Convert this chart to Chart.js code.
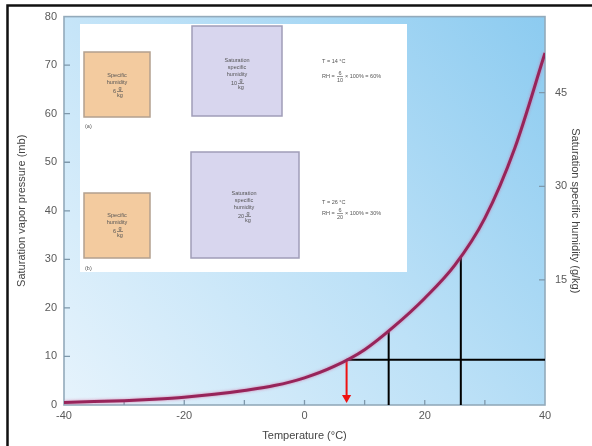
<!DOCTYPE html>
<html>
<head>
<meta charset="utf-8">
<script src="https://cdn.jsdelivr.net/npm/chart.js@4.4.1/dist/chart.umd.min.js"></script>
<style>
  html, body { margin: 0; padding: 0; background: #ffffff; }
  #wrap { width: 592px; height: 446px; position: relative; }
</style>
</head>
<body>
<div id="wrap"><canvas id="c" width="592" height="446"></canvas></div>
<script>
// Saturation vapor pressure (mb) against temperature (°C)
const temperatures  = [-40, -35, -30, -25, -20, -15, -10, -5, 0, 5, 10, 15, 20, 25, 30, 35, 40];
const vaporPressure = [0.5, 0.7, 0.9, 1.2, 1.6, 2.2, 3.0, 4.0, 5.6, 8.0, 11.4, 16.3, 22.0, 28.8, 38.5, 53, 72.5];

// Dew point construction: air holding 6 g/kg
const dewTemp = 7;
const dewPressure = 9.3;
const sampleTemps = [14, 26];
const sampleSatPressure = [15.2, 30.3];

// Axis ticks
const pressureTicks = [0, 10, 20, 30, 40, 50, 60, 70, 80];
const tempTicks = [-40, -20, 0, 20, 40];
const tempMinorTicks = [-30, -10, 10, 30];
const humidityTicks = [15, 30, 45];

const FONT = '"Liberation Sans", Arial, sans-serif';

const curvePoints = temperatures.map((t, i) => ({ x: t, y: vaporPressure[i] }));
const dewLine = [{ x: dewTemp, y: dewPressure }, { x: 40, y: dewPressure }];
const arrowLine = [{ x: dewTemp, y: dewPressure }, { x: dewTemp, y: 1.5 }];
const sampleLines = sampleTemps.map((t, i) => [{ x: t, y: 0 }, { x: t, y: sampleSatPressure[i] }]);

// Background gradient, plot frame, inward tick marks and the humidity inset
const decor = {
  id: 'decor',
  beforeDraw(chart) {
    const ctx = chart.ctx;
    ctx.save();
    ctx.fillStyle = '#ffffff';
    ctx.fillRect(0, 0, chart.width, chart.height);
    ctx.strokeStyle = '#111';
    ctx.lineWidth = 2.5;
    ctx.beginPath();
    ctx.moveTo(7.5, chart.height);
    ctx.lineTo(7.5, 5.5);
    ctx.lineTo(chart.width, 5.5);
    ctx.stroke();
    ctx.restore();
  },
  beforeDatasetsDraw(chart) {
    const ctx = chart.ctx;
    const a = chart.chartArea;
    ctx.save();
    const g = ctx.createLinearGradient(a.left, a.bottom, a.right, a.top);
    g.addColorStop(0, '#e6f3fc');
    g.addColorStop(0.5, '#bde1f7');
    g.addColorStop(1, '#8ccbf0');
    ctx.fillStyle = g;
    ctx.fillRect(a.left, a.top, a.right - a.left, a.bottom - a.top);

    ctx.strokeStyle = '#93aabb';
    ctx.lineWidth = 1.6;
    ctx.strokeRect(a.left, a.top, a.right - a.left, a.bottom - a.top);

    // inward tick marks
    ctx.strokeStyle = '#7e98ab';
    ctx.lineWidth = 1.3;
    const y = chart.scales.y, x = chart.scales.x, y2 = chart.scales.y2;
    ctx.beginPath();
    pressureTicks.forEach(v => {
      if (v === 0 || v === 80) return;
      const py = y.getPixelForValue(v);
      ctx.moveTo(a.left, py); ctx.lineTo(a.left + 6, py);
    });
    tempTicks.concat(tempMinorTicks).forEach(v => {
      if (v === -40 || v === 40) return;
      const px = x.getPixelForValue(v);
      ctx.moveTo(px, a.bottom); ctx.lineTo(px, a.bottom - 5);
    });
    humidityTicks.forEach(v => {
      const py = y2.getPixelForValue(v);
      ctx.moveTo(a.right, py); ctx.lineTo(a.right - 6, py);
    });
    ctx.stroke();

    drawInset(ctx, a);
    ctx.restore();
  },
  beforeDatasetDraw(chart, args) {
    if (args.index === 0) {
      chart.ctx.save();
      chart.ctx.shadowColor = 'rgba(214, 96, 150, 0.75)';
      chart.ctx.shadowBlur = 3;
    }
  },
  afterDatasetDraw(chart, args) {
    if (args.index === 0) chart.ctx.restore();
  }
};

function box(ctx, x, y, w, h, fill, stroke) {
  ctx.fillStyle = fill;
  ctx.fillRect(x, y, w, h);
  ctx.strokeStyle = stroke;
  ctx.lineWidth = 1.5;
  ctx.strokeRect(x, y, w, h);
}

function centered(ctx, lines, cx, y0, step) {
  ctx.textAlign = 'center';
  lines.forEach((s, i) => ctx.fillText(s, cx, y0 + i * step));
}

// "n g/kg" with the unit written as a stacked fraction
function amount(ctx, n, cx, cy) {
  ctx.textAlign = 'right';
  ctx.fillText(n, cx + 1, cy);
  ctx.textAlign = 'center';
  ctx.fillText('g', cx + 5, cy - 3);
  ctx.fillText('kg', cx + 5, cy + 4);
  ctx.beginPath();
  ctx.moveTo(cx + 2, cy + 0.5); ctx.lineTo(cx + 8, cy + 0.5);
  ctx.stroke();
}

function rhLine(ctx, x, y, num, den, result) {
  ctx.textAlign = 'left';
  ctx.fillText('RH =', x, y);
  const fx = x + 18;
  ctx.textAlign = 'center';
  ctx.fillText(num, fx, y - 3);
  ctx.fillText(den, fx, y + 4);
  ctx.beginPath();
  ctx.moveTo(fx - 3, y + 0.5); ctx.lineTo(fx + 3, y + 0.5);
  ctx.stroke();
  ctx.textAlign = 'left';
  ctx.fillText('\u00d7 100% = ' + result, fx + 5, y);
}

function drawInset(ctx) {
  ctx.fillStyle = '#ffffff';
  ctx.fillRect(80, 24, 327, 248);

  box(ctx, 84, 52, 66, 65, '#f3cb9f', '#b3a08f');
  box(ctx, 192, 26, 90, 90, '#d8d6ee', '#a09db8');
  box(ctx, 84, 193, 66, 65, '#f3cb9f', '#b3a08f');
  box(ctx, 191, 152, 108, 106, '#d8d6ee', '#a09db8');

  ctx.fillStyle = '#555';
  ctx.strokeStyle = '#555';
  ctx.lineWidth = 0.6;
  ctx.font = '5.5px ' + FONT;
  ctx.textBaseline = 'middle';

  centered(ctx, ['Specific', 'humidity'], 117, 75, 7);
  amount(ctx, '6', 115, 91);
  centered(ctx, ['Saturation', 'specific', 'humidity'], 237, 60, 7);
  amount(ctx, '10', 236, 83);

  centered(ctx, ['Specific', 'humidity'], 117, 215, 7);
  amount(ctx, '6', 115, 231);
  centered(ctx, ['Saturation', 'specific', 'humidity'], 244, 193, 7);
  amount(ctx, '20', 243, 216);

  ctx.textAlign = 'left';
  ctx.fillText('T = 14 \u00b0C', 322, 61);
  rhLine(ctx, 322, 76, '6', '10', '60%');
  ctx.fillText('T = 26 \u00b0C', 322, 202);
  rhLine(ctx, 322, 213, '6', '20', '30%');

  ctx.fillText('(a)', 85, 126);
  ctx.fillText('(b)', 85, 268);
}

const tickFont = { family: FONT, size: 11 };
const tickColor = '#5a5a5a';

new Chart(document.getElementById('c'), {
  type: 'line',
  data: {
    datasets: [
      {
        data: curvePoints,
        borderColor: '#97245a',
        borderWidth: 3,
        pointRadius: 0,
        cubicInterpolationMode: 'monotone',
        yAxisID: 'y'
      },
      {
        data: dewLine,
        borderColor: '#000',
        borderWidth: 2,
        pointRadius: 0,
        yAxisID: 'y'
      },
      {
        data: sampleLines[0],
        borderColor: '#000',
        borderWidth: 2,
        pointRadius: 0,
        yAxisID: 'y'
      },
      {
        data: sampleLines[1],
        borderColor: '#000',
        borderWidth: 2,
        pointRadius: 0,
        yAxisID: 'y'
      },
      {
        data: arrowLine,
        borderColor: '#ee1111',
        backgroundColor: '#ee1111',
        borderWidth: 2,
        pointStyle: 'triangle',
        pointRadius: [0, 5.3],
        pointRotation: 180,
        pointBorderWidth: 0,
        yAxisID: 'y'
      }
    ]
  },
  options: {
    responsive: false,
    devicePixelRatio: 1,
    animation: false,
    events: [],
    layout: { padding: { top: 11, left: 0, right: 0, bottom: 0 } },
    plugins: { legend: { display: false }, tooltip: { enabled: false } },
    scales: {
      x: {
        type: 'linear',
        min: -40, max: 40,
        afterBuildTicks: s => { s.ticks = tempTicks.map(v => ({ value: v })); },
        afterFit: s => { s.height = 41; },
        grid: { drawOnChartArea: false, drawTicks: false },
        border: { display: false },
        ticks: { font: tickFont, color: tickColor, padding: 4, maxRotation: 0 },
        title: {
          display: true, text: 'Temperature (\u00b0C)',
          font: { family: FONT, size: 11 }, color: '#444',
          padding: { top: 0, bottom: 3 }
        }
      },
      y: {
        type: 'linear',
        position: 'left',
        min: 0, max: 80,
        afterBuildTicks: s => { s.ticks = pressureTicks.map(v => ({ value: v })); },
        afterFit: s => { s.width = 64; },
        grid: { drawOnChartArea: false, drawTicks: false },
        border: { display: false },
        ticks: { font: tickFont, color: tickColor, padding: 7 },
        title: {
          display: true, text: 'Saturation vapor pressure (mb)',
          font: { family: FONT, size: 11 }, color: '#444',
          padding: { top: 15, bottom: 0 }
        }
      },
      y2: {
        type: 'linear',
        position: 'right',
        min: -5.05, max: 57.2,
        afterBuildTicks: s => { s.ticks = humidityTicks.map(v => ({ value: v })); },
        afterFit: s => { s.width = 47; },
        grid: { drawOnChartArea: false, drawTicks: false },
        border: { display: false },
        ticks: { font: tickFont, color: tickColor, padding: 10 },
        title: {
          display: true, text: 'Saturation specific humidity (g/kg)',
          font: { family: FONT, size: 11 }, color: '#444',
          padding: { top: 10, bottom: 0 }
        }
      }
    }
  },
  plugins: [decor]
});
</script>
</body>
</html>
